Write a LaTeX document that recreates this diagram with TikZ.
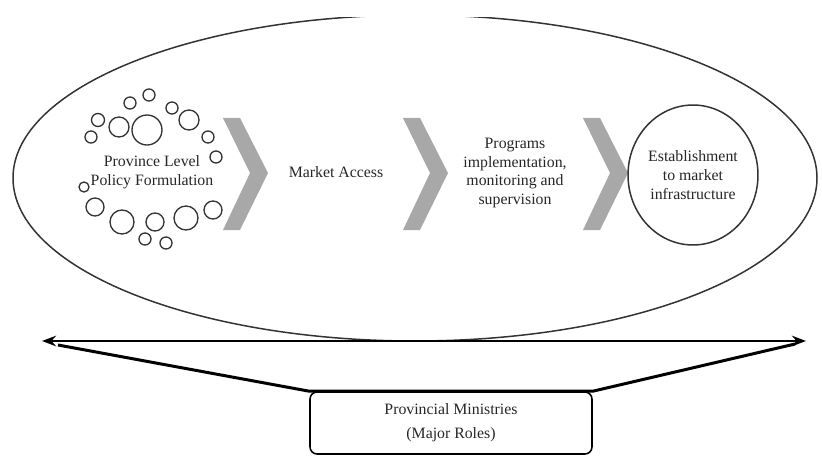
\documentclass[tikz,border=0pt]{standalone}
\usepackage{fontspec}
\setmainfont{Liberation Serif}
\newfontfamily\timesfont{Liberation Serif}
\usepackage{tikz}
\usetikzlibrary{shapes.geometric, arrows.meta, positioning, calc}
\tikzset{
  stage/.style = {font=\timesfont\fontsize{9}{10.8}\selectfont, align=center, text=black!85, inner sep=1pt},
  box/.style = {draw, rounded corners=4pt, align=center, line width=0.9pt, minimum width=5.64cm, minimum height=1.24cm},
  arrow/.style = {{Stealth[length=8pt, width=6pt]}-{Stealth[length=8pt, width=6pt]}, line width=1.7pt}
}

\begin{document}
\begin{tikzpicture}[x=0.02cm, y=-0.02cm]
  \colorlet{chevronGray}{black!34}
  \colorlet{lineGray}{black!80}
  \tikzset{
    bubble/.style={draw=lineGray, line width=0.75pt},
    funnel/.style={line width=1.7pt, line join=round}
  }

  \def\px{0.02cm}

  \useasboundingbox (0,0) rectangle (822,456);

  \begin{scope}
    \clip (0,17.5) rectangle (822,456);
    \draw[lineGray, line width=0.85pt] (415,178) ellipse [x radius=402*\px, y radius=163*\px];
  \end{scope}

  \foreach \cx in {223, 403, 583}
    \fill[chevronGray] (\cx,118) -- ++(17,0) -- ++(28,55) -- ++(-28,57) -- ++(-17,0) -- ++(27,-57) -- cycle;

  \foreach \bx/\by/\br in {149/95/6, 130/103/6, 172/108/6, 98/120/6.5, 119/127/10, 147/130/15,
                           189/120/10, 91/137/6, 208/137/6, 216/157/6, 84/187/5, 95/207/9,
                           122/222/12, 155/222/9, 186/218/12, 213/210/9, 145/239/6, 166/243/6}
    \draw[bubble] (\bx,\by) circle [radius=\br*\px];

  \node[stage] (policy)   at (152,172) {Province Level\\Policy Formulation};
  \node[stage] (access)   at (336,172) {Market Access};
  \node[stage] (programs) at (515,173) {Programs\\implementation,\\monitoring and\\supervision};
  \node[stage, ellipse, draw=lineGray, fill=white, line width=0.85pt,
        minimum width=2.6cm, minimum height=2.8cm, inner sep=0pt] (infra) at (693,175)
        {Establishment\\to market\\infrastructure};

  \node[box, stage, draw=black, line width=0.9pt] (ministries) at (451,423)
        {Provincial Ministries\\[3pt](Major Roles)};

  \coordinate (leftEnd)   at (42,341);
  \coordinate (rightEnd)  at (806,341);
  \coordinate (leftFoot)  at (58,345);
  \coordinate (rightFoot) at (795,344);

  \draw[arrow] (leftEnd) -- (rightEnd);
  \draw[funnel] (leftFoot) -- (ministries.north west) -- (ministries.north east) -- (rightFoot);
\end{tikzpicture}
\end{document}
